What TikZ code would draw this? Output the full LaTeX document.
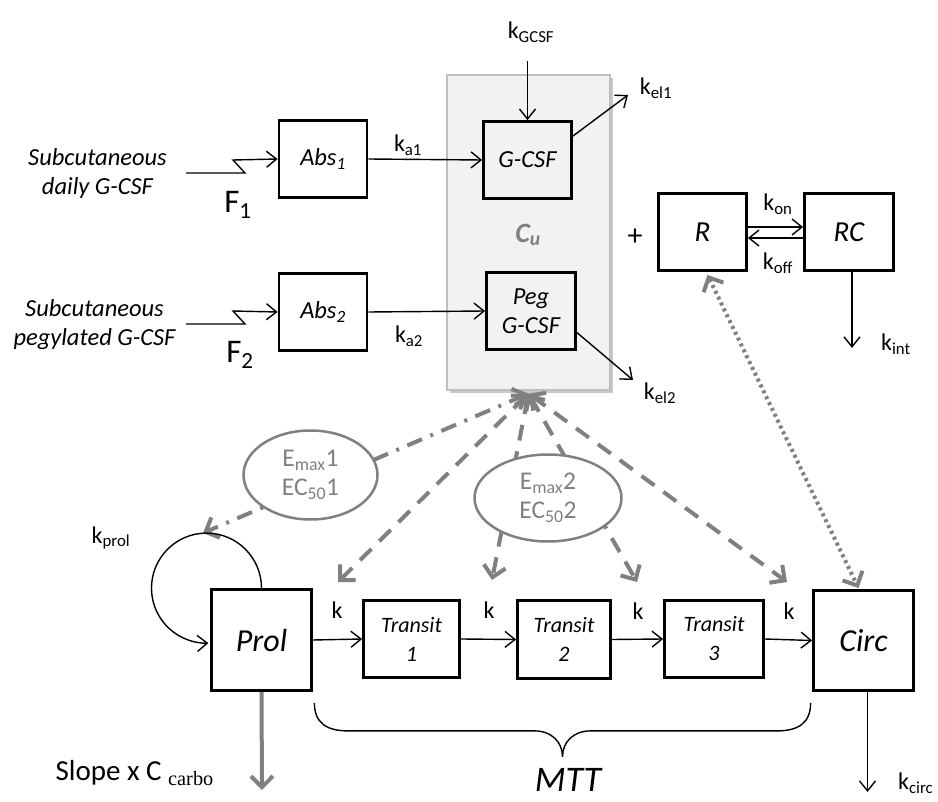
\documentclass[tikz,border=0pt]{standalone}
\usepackage{fontspec}
\setmainfont{Carlito}
\newfontfamily\serifsub{Liberation Serif}
\usetikzlibrary{arrows.meta,calc,shapes.geometric}
\definecolor{dg}{RGB}{128,128,128}
\definecolor{boxfill}{RGB}{242,242,242}
\definecolor{boxline}{RGB}{190,190,190}
\definecolor{shadowc}{RGB}{200,200,200}
\newcommand{\fsz}[2]{\fontsize{#1}{#2}\selectfont}
\begin{document}
\begin{tikzpicture}[x=1pt,y=-1pt,
  box/.style={draw, line width=2.8pt, inner sep=0pt, align=center, font=\itshape\fsz{24.5}{27}},
  arr/.style={line width=1.4pt, -{Straight Barb[length=10pt,width=16pt]}},
  gtip/.style={{Straight Barb[length=11pt,width=22pt]}-{Straight Barb[length=11pt,width=22pt]}},
  garr/.style={draw=dg, line width=4pt, gtip, dash pattern=on 16pt off 11pt},
  lbl/.style={inner sep=0pt, font=\fsz{24}{26}},
  ell/.style={ellipse, draw=dg, line width=2.5pt, fill=white, text=dg, inner sep=0pt, align=center, font=\fsz{25.5}{29}}
]
\useasboundingbox (0,0) rectangle (938,802);

% central compartment
\fill[shadowc] (450,78) rectangle (613,393);
\node[draw=boxline, fill=boxfill, line width=1.2pt, minimum width=163pt, minimum height=315pt, inner sep=0pt] (cu) at (528.5,232.5) {};
\node[text=dg, inner sep=0pt, font=\bfseries\itshape\fsz{28}{30}] (culbl) at (528,235) {C\textsubscript{u}};

% gray effect connectors
\coordinate (conv) at ($(cu.south)+(0,3)$);
\coordinate (g1) at (203,533);
\coordinate (g2) at (338,582);
\coordinate (g3) at (492,580);
\coordinate (g4) at (637,582);
\coordinate (g5) at (787,582);
\draw[garr, dash pattern=on 16pt off 9pt on 3pt off 9pt] (conv) -- (g1);
\draw[garr] (conv) -- (g2);
\draw[garr] (conv) -- (g3);
\draw[garr] (conv) -- (g4);
\draw[garr] (conv) -- (g5);

\node[ell, minimum width=134pt, minimum height=89pt] (e1) at (310.5,475) {E\textsubscript{max}1\\EC\textsubscript{50}1};
\node[ell, minimum width=147pt, minimum height=87pt] (e2) at (548,498) {E\textsubscript{max}2\\EC\textsubscript{50}2};

% inputs
\node[inner sep=0pt, align=center, font=\itshape\fsz{24.5}{29}] (src1) at (97.5,173) {Subcutaneous\\daily G-CSF};
\node[inner sep=0pt, align=center, font=\itshape\fsz{24.5}{29}] (src2) at (94.5,325) {Subcutaneous\\pegylated G-CSF};
\coordinate (in1) at (186,173);
\coordinate (in2) at (186,324);

% boxes
\node[box, minimum width=88pt, minimum height=77pt] (abs1) at (323,159) {Abs\textsubscript{1}};
\node[box, minimum width=88pt, minimum height=77pt] (abs2) at (323,312) {Abs\textsubscript{2}};
\node[box, minimum width=88pt, minimum height=77pt] (gcsf) at (527.5,160) {G-CSF};
\node[box, minimum width=89pt, minimum height=77pt, font=\itshape\fsz{24.5}{29}] (peg) at (531,311) {Peg\\G-CSF};
\node[box, minimum width=88pt, minimum height=77pt, font=\itshape\fsz{29}{30}] (R) at (702.5,232) {R};
\node[box, minimum width=89pt, minimum height=77pt, font=\itshape\fsz{29}{30}] (RC) at (849,232) {RC};
\node[box, minimum width=100pt, minimum height=101pt, font=\itshape\fsz{32}{33}] (prol) at (261.5,640) {Prol};
\node[box, minimum width=96pt, minimum height=77pt, font=\itshape\fsz{22}{29}] (t1) at (411.5,639) {Transit\\1};
\node[box, minimum width=93pt, minimum height=78pt, font=\itshape\fsz{22}{29}] (t2) at (564,639.5) {Transit\\2};
\node[box, minimum width=99pt, minimum height=77pt, font=\itshape\fsz{22}{29}] (t3) at (714,639) {Transit\\3};
\node[box, minimum width=100pt, minimum height=100pt, font=\itshape\fsz{32}{33}] (circ) at (863.5,640.5) {Circ};

% input arrows
\draw[arr] (in1) -- ++(59,0) -- ++(-12,-13) -- (abs1.west);
\draw[arr] (in2) -- ++(59,0) -- ++(-12,-13) -- (abs2.west);
\node[inner sep=0pt, font=\fsz{33}{34}] (f1) at (238,205) {F\textsubscript{1}};
\node[inner sep=0pt, font=\fsz{33}{34}] (f2) at (240,355) {F\textsubscript{2}};

% absorption
\draw[arr] (abs1.east) -- (gcsf.west);
\draw[arr] (abs2.east) -- (peg.west);
\node[lbl] (ka1) at (408,145) {k\textsubscript{a1}};
\node[lbl] (ka2) at (409,336) {k\textsubscript{a2}};

% production and elimination
\coordinate (kgtop) at (527.5,61);
\draw[arr] (kgtop) -- (gcsf.north);
\node[lbl] (kg) at (531,32) {k\textsubscript{GCSF}};
\coordinate (kel1end) at (628,95);
\draw[arr] ($(gcsf.north east)!0.2!(gcsf.south east)$) -- (kel1end);
\node[lbl] (kel1) at (656,88) {k\textsubscript{el1}};
\coordinate (kel2end) at (633,380);
\draw[arr] ($(peg.north east)!0.77!(peg.south east)$) -- (kel2end);
\node[lbl] (kel2) at (660,393) {k\textsubscript{el2}};

% receptor
\node[inner sep=0pt, font=\fsz{30}{30}] (plus) at (635,237) {+};
\draw[arr] ($(R.east)+(0,-5)$) -- ($(RC.west)+(0,-5)$);
\draw[arr] ($(RC.west)+(0,6)$) -- ($(R.east)+(0,6)$);
\node[lbl] (kon) at (778,204) {k\textsubscript{on}};
\node[lbl] (koff) at (778,263) {k\textsubscript{off}};
\coordinate (kintend) at ($(RC.south)+(3,76)$);
\draw[arr] ($(RC.south)+(3,0)$) -- (kintend);
\node[lbl] (kint) at (896,344) {k\textsubscript{int}};

% receptor - circulating link
\draw[dg, line width=4pt, gtip, dash pattern=on 3pt off 3.5pt] ($(R.south)+(5,3)$) -- ($(circ.north)+(-5,-1)$);

% transit chain
\draw[arr] (prol.east) -- (t1.west);
\draw[arr] (t1.east) -- (t2.west);
\draw[arr] (t2.east) -- (t3.west);
\draw[arr] (t3.east) -- (circ.west);
\node[lbl] (k1) at (337,610) {k};
\node[lbl] (k2) at (489,610) {k};
\node[lbl] (k3) at (638,611) {k};
\node[lbl] (k4) at (789,611) {k};

% proliferation loop
\draw[arr] (prol.north) arc[start angle=0, end angle=-272, radius=55];
\node[lbl] (kprol) at (111,538) {k\textsubscript{prol}};

% outflows
\coordinate (prolout) at (262,790);
\draw[dg, line width=4pt, -{Straight Barb[length=11pt,width=22pt]}] (prol.south) -- (prolout);
\node[inner sep=0pt, anchor=east, font=\fsz{29}{30}] (slope) at (214,773) {Slope x C {\serifsub\textsubscript{carbo}}};
\coordinate (kcircend) at (867.5,792);
\draw[arr] ($(circ.south)+(4,0)$) -- (kcircend);
\node[lbl, anchor=west] (kcirc) at (898,783) {k\textsubscript{circ}};

% MTT brace
\coordinate (bl) at ($(prol.south east)+(1.5,11)$);
\coordinate (br) at ($(circ.south west)+(-1.5,11)$);
\coordinate (tp) at ($(bl)!0.5!(br)+(0,54)$);
\draw[line width=1.4pt] (bl) .. controls +(0,20) and +(-22,0) .. ($(bl)+(34,28)$)
  -- ($(tp)+(-28,-26)$) .. controls +(17,0) and +(0,-15) .. (tp)
  .. controls +(0,-15) and +(-17,0) .. ($(tp)+(28,-26)$)
  -- ($(br)+(-34,28)$) .. controls +(22,0) and +(0,20) .. (br);
\node[inner sep=0pt, font=\itshape\fsz{36}{37}] (mtt) at (568,780) {MTT};
\end{tikzpicture}
\end{document}
